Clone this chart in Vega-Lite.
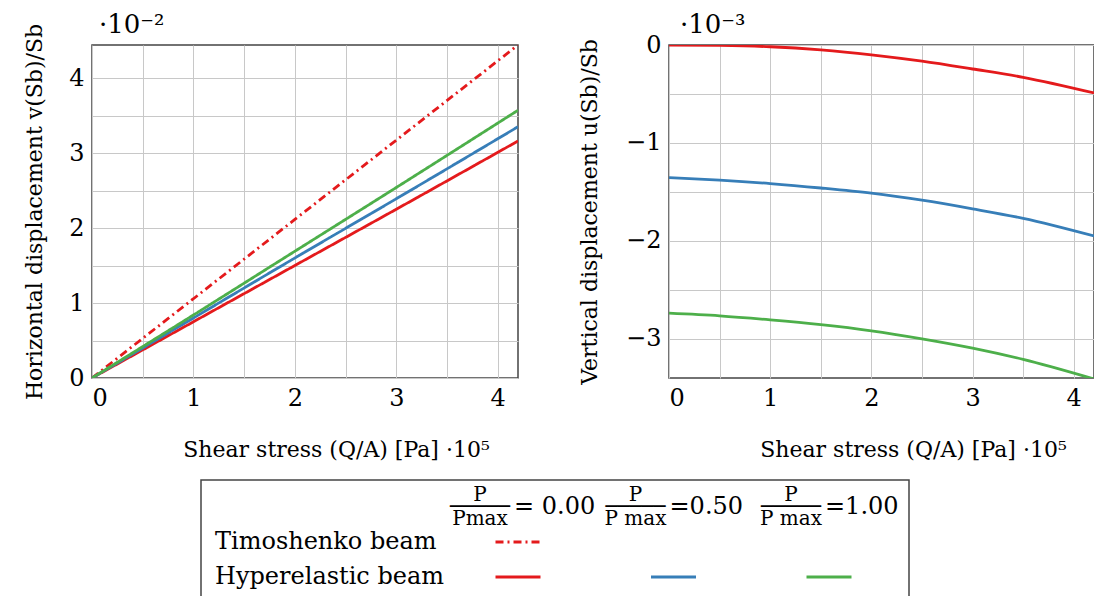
{
  "$schema": "https://vega.github.io/schema/vega-lite/v6.json",
  "padding": {"left": 22, "top": 11, "right": 0, "bottom": 0},
  "config": {
    "font": "DejaVu Serif",
    "view": {"stroke": "#444", "strokeWidth": 1.5},
    "axis": {"labelFont": "DejaVu Serif", "titleFont": "DejaVu Serif", "labelFontSize": 24, "titleFontSize": 22, "labelColor": "#000", "titleColor": "#000", "titleFontWeight": "normal", "ticks": false, "domain": false, "gridColor": "#c8c8c8", "gridWidth": 1, "labelPadding": 8, "format": "d"}
  },
  "datasets": {
    "curves": [
      {"panel": "h", "series": "Timoshenko", "x": 0, "y": 0},
      {"panel": "h", "series": "Timoshenko", "x": 1, "y": 1.057},
      {"panel": "h", "series": "Timoshenko", "x": 2, "y": 2.114},
      {"panel": "h", "series": "Timoshenko", "x": 3, "y": 3.171},
      {"panel": "h", "series": "Timoshenko", "x": 4.2, "y": 4.44},
      {"panel": "h", "series": "P0", "x": 0, "y": 0},
      {"panel": "h", "series": "P0", "x": 1, "y": 0.75},
      {"panel": "h", "series": "P0", "x": 2, "y": 1.5},
      {"panel": "h", "series": "P0", "x": 3, "y": 2.25},
      {"panel": "h", "series": "P0", "x": 4.2, "y": 3.16},
      {"panel": "h", "series": "P05", "x": 0, "y": 0},
      {"panel": "h", "series": "P05", "x": 1, "y": 0.8},
      {"panel": "h", "series": "P05", "x": 2, "y": 1.6},
      {"panel": "h", "series": "P05", "x": 3, "y": 2.39},
      {"panel": "h", "series": "P05", "x": 4.2, "y": 3.35},
      {"panel": "h", "series": "P1", "x": 0, "y": 0},
      {"panel": "h", "series": "P1", "x": 1, "y": 0.84},
      {"panel": "h", "series": "P1", "x": 2, "y": 1.69},
      {"panel": "h", "series": "P1", "x": 3, "y": 2.54},
      {"panel": "h", "series": "P1", "x": 4.2, "y": 3.57},
      {"panel": "v", "series": "P0", "x": 0, "y": 0},
      {"panel": "v", "series": "P0", "x": 0.5, "y": -0.004},
      {"panel": "v", "series": "P0", "x": 1, "y": -0.018},
      {"panel": "v", "series": "P0", "x": 1.5, "y": -0.05},
      {"panel": "v", "series": "P0", "x": 2, "y": -0.1},
      {"panel": "v", "series": "P0", "x": 2.5, "y": -0.165},
      {"panel": "v", "series": "P0", "x": 3, "y": -0.245},
      {"panel": "v", "series": "P0", "x": 3.5, "y": -0.33},
      {"panel": "v", "series": "P0", "x": 4.2, "y": -0.49},
      {"panel": "v", "series": "P05", "x": 0, "y": -1.354},
      {"panel": "v", "series": "P05", "x": 0.5, "y": -1.38},
      {"panel": "v", "series": "P05", "x": 1, "y": -1.415},
      {"panel": "v", "series": "P05", "x": 1.5, "y": -1.46},
      {"panel": "v", "series": "P05", "x": 2, "y": -1.513},
      {"panel": "v", "series": "P05", "x": 2.5, "y": -1.585},
      {"panel": "v", "series": "P05", "x": 3, "y": -1.673},
      {"panel": "v", "series": "P05", "x": 3.5, "y": -1.77},
      {"panel": "v", "series": "P05", "x": 4.2, "y": -1.95},
      {"panel": "v", "series": "P1", "x": 0, "y": -2.738},
      {"panel": "v", "series": "P1", "x": 0.5, "y": -2.765},
      {"panel": "v", "series": "P1", "x": 1, "y": -2.806},
      {"panel": "v", "series": "P1", "x": 1.5, "y": -2.855},
      {"panel": "v", "series": "P1", "x": 2, "y": -2.918},
      {"panel": "v", "series": "P1", "x": 2.5, "y": -3.0},
      {"panel": "v", "series": "P1", "x": 3, "y": -3.095},
      {"panel": "v", "series": "P1", "x": 3.5, "y": -3.21},
      {"panel": "v", "series": "P1", "x": 4.2, "y": -3.41}
    ],
    "legend": [
      {"row": "header", "col": "c0", "frac": "P\n─────\nPmax", "eq": "= 0.00"},
      {"row": "header", "col": "c1", "frac": "P\n─────\nP max", "eq": "=0.50"},
      {"row": "header", "col": "c2", "frac": "P\n─────\nP max", "eq": "=1.00"},
      {"row": "timo", "col": "c0", "label": "Timoshenko beam"},
      {"row": "hyper", "col": "c0", "label": "Hyperelastic beam"},
      {"row": "timo", "col": "c0", "series": "Timoshenko"},
      {"row": "hyper", "col": "c0", "series": "P0"},
      {"row": "hyper", "col": "c1", "series": "P05"},
      {"row": "hyper", "col": "c2", "series": "P1"}
    ]
  },
  "vconcat": [
    {
      "hconcat": [
        {
          "width": 426,
          "height": 333,
          "encoding": {
            "x": {"field": "x", "type": "quantitative", "scale": {"domain": [0, 4.2], "nice": false, "zero": false},
                  "axis": {"values": [0, 0.5, 1, 1.5, 2, 2.5, 3, 3.5, 4], "labelExpr": "datum.value % 1 === 0 ? datum.label : ''", "title": "Shear stress (Q/A) [Pa]    ·10⁵", "titlePadding": 29, "titleX": 244}},
            "y": {"field": "y", "type": "quantitative", "scale": {"domain": [0, 4.44], "nice": false},
                  "axis": {"values": [0, 0.5, 1, 1.5, 2, 2.5, 3, 3.5, 4], "labelExpr": "datum.value % 1 === 0 ? datum.label : ''", "title": "Horizontal displacement v(Sb)/Sb", "titlePadding": 22}}
          },
          "layer": [
            {
              "data": {"name": "curves"},
              "transform": [{"filter": "datum.panel === 'h'"}],
              "mark": {"type": "line", "strokeWidth": 2.8, "clip": true, "interpolate": "monotone"},
              "encoding": {
                "color": {"field": "series", "type": "nominal", "scale": {"domain": ["Timoshenko", "P0", "P05", "P1"], "range": ["#e41a1c", "#e41a1c", "#377eb8", "#4daf4a"]}, "legend": null},
                "strokeDash": {"field": "series", "type": "nominal", "scale": {"domain": ["Timoshenko", "P0", "P05", "P1"], "range": [[8, 4, 2, 4], [1, 0], [1, 0], [1, 0]]}, "legend": null}
              }
            },
            {
              "data": {"values": [{"x": 0, "y": 4.44, "t": "·10⁻²"}]},
              "mark": {"type": "text", "align": "left", "baseline": "alphabetic", "dx": 7, "dy": -12, "fontSize": 26, "font": "DejaVu Serif", "color": "#000"},
              "encoding": {"text": {"field": "t"}}
            }
          ]
        },
        {
          "width": 425,
          "height": 333,
          "encoding": {
            "x": {"field": "x", "type": "quantitative", "scale": {"domain": [0, 4.2], "nice": false, "zero": false},
                  "axis": {"values": [0, 0.5, 1, 1.5, 2, 2.5, 3, 3.5, 4], "labelExpr": "datum.value % 1 === 0 ? datum.label : ''", "title": "Shear stress (Q/A) [Pa]    ·10⁵", "titlePadding": 29, "titleX": 244}},
            "y": {"field": "y", "type": "quantitative", "scale": {"domain": [-3.4, 0], "nice": false},
                  "axis": {"values": [0, -0.5, -1, -1.5, -2, -2.5, -3], "labelExpr": "datum.value % 1 === 0 ? datum.label : ''", "title": "Vertical displacement u(Sb)/Sb", "titlePadding": 24}}
          },
          "layer": [
            {
              "data": {"name": "curves"},
              "transform": [{"filter": "datum.panel === 'v'"}],
              "mark": {"type": "line", "strokeWidth": 2.8, "clip": true, "interpolate": "monotone"},
              "encoding": {
                "color": {"field": "series", "type": "nominal", "scale": {"domain": ["Timoshenko", "P0", "P05", "P1"], "range": ["#e41a1c", "#e41a1c", "#377eb8", "#4daf4a"]}, "legend": null}
              }
            },
            {
              "data": {"values": [{"x": 0, "y": 0, "t": "·10⁻³"}]},
              "mark": {"type": "text", "align": "left", "baseline": "alphabetic", "dx": 11, "dy": -12, "fontSize": 26, "font": "DejaVu Serif", "color": "#000"},
              "encoding": {"text": {"field": "t"}}
            }
          ]
        }
      ],
      "spacing": 58
    },
    {
      "hconcat": [
        {
          "width": 98,
          "height": 125,
          "view": {"stroke": null},
          "data": {"values": [{"t": ""}]},
          "mark": {"type": "text"},
          "encoding": {"text": {"field": "t"}}
        },
        {
          "width": 708,
          "height": 125,
          "data": {"name": "legend"},
          "encoding": {
            "x": {"field": "col", "type": "ordinal", "scale": {"type": "point", "domain": ["c0", "c1", "c2"], "padding": 0, "range": [317, 628]}, "axis": null},
            "y": {"field": "row", "type": "ordinal", "scale": {"type": "point", "domain": ["header", "timo", "hyper"], "padding": 0.786, "align": 0.49}, "axis": null}
          },
          "layer": [
            {
              "transform": [{"filter": "datum.frac"}],
              "mark": {"type": "text", "fontSize": 20, "font": "DejaVu Serif", "dx": -38, "dy": -12, "lineBreak": "\n", "lineHeight": 12, "baseline": "middle"},
              "encoding": {"text": {"field": "frac"}}
            },
            {
              "transform": [{"filter": "datum.eq"}],
              "mark": {"type": "text", "fontSize": 24, "font": "DejaVu Serif", "align": "left", "dx": -4, "baseline": "middle"},
              "encoding": {"text": {"field": "eq"}}
            },
            {
              "transform": [{"filter": "datum.label"}],
              "mark": {"type": "text", "fontSize": 24, "font": "DejaVu Serif", "align": "left", "dx": -303, "baseline": "middle"},
              "encoding": {"text": {"field": "label"}}
            },
            {
              "transform": [{"filter": "datum.series === 'Timoshenko'"}],
              "mark": {"type": "point", "shape": "stroke", "size": 2025, "strokeWidth": 3, "filled": false, "opacity": 1, "color": "#e41a1c", "strokeDash": [8, 4, 2, 4]}
            },
            {
              "transform": [{"filter": "datum.series && datum.series !== 'Timoshenko'"}],
              "mark": {"type": "point", "shape": "stroke", "size": 2025, "strokeWidth": 3, "filled": false, "opacity": 1},
              "encoding": {
                "color": {"field": "series", "type": "nominal", "scale": {"domain": ["Timoshenko", "P0", "P05", "P1"], "range": ["#e41a1c", "#e41a1c", "#377eb8", "#4daf4a"]}, "legend": null}
              }
            }
          ]
        }
      ],
      "spacing": 10
    }
  ],
  "spacing": 18
}
